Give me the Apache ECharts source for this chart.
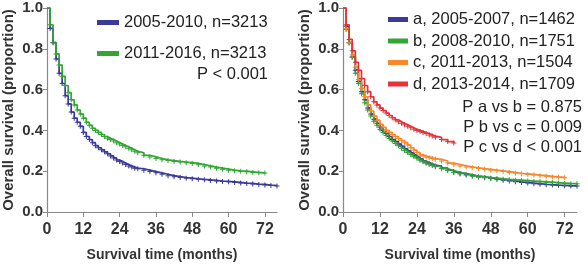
<!DOCTYPE html>
<html>
<head>
<meta charset="utf-8">
<script src="https://cdn.jsdelivr.net/npm/echarts@6/dist/echarts.min.js"></script>
<style>
  html, body { margin: 0; padding: 0; background: #fff; }
  #chart { width: 588px; height: 267px; }
</style>
</head>
<body>
<div id="chart"></div>
<script>
// months at which the survival values are read (same grid for every curve)
const months = [0, 1, 2, 3, 4, 5, 6, 7, 8, 9, 10, 11, 12, 13, 14, 15, 16, 17, 18, 19, 20,
  21, 22, 23, 24, 25, 26, 27, 28, 29, 30, 32, 34, 36, 38, 40, 42, 44, 46, 48, 50,
  52, 54, 56, 58, 60, 62, 64, 66, 68, 70, 72, 74, 76]

// left panel
const leftNames = ['2005-2010, n=3213', '2011-2016, n=3213']
const left2005 = [1, 0.90, 0.83, 0.75, 0.68, 0.63, 0.57, 0.53, 0.49, 0.46, 0.44, 0.42, 0.39, 0.37, 0.355, 0.34, 0.325, 0.315, 0.305, 0.295, 0.285,
  0.275, 0.265, 0.255, 0.248, 0.24, 0.233, 0.226, 0.22, 0.215, 0.212, 0.205, 0.198, 0.192, 0.185, 0.178, 0.173, 0.169, 0.166, 0.163, 0.16,
  0.158, 0.155, 0.152, 0.15, 0.148, 0.145, 0.142, 0.14, 0.137, 0.135, 0.132, 0.13, 0.128]
const left2011 = [1, 0.918, 0.83, 0.775, 0.72, 0.665, 0.62, 0.585, 0.55, 0.525, 0.50, 0.48, 0.46, 0.44, 0.425, 0.41, 0.40, 0.39, 0.38, 0.37, 0.362,
  0.355, 0.348, 0.34, 0.333, 0.326, 0.32, 0.313, 0.305, 0.298, 0.29, 0.278, 0.27, 0.262, 0.256, 0.252, 0.248, 0.245, 0.242, 0.238, 0.232,
  0.226, 0.22, 0.215, 0.21, 0.205, 0.202, 0.2, 0.197, 0.194, 0.192, 0.191]

// right panel
const rightNames = ['a, 2005-2007, n=1462', 'b, 2008-2010, n=1751', 'c, 2011-2013, n=1504', 'd, 2013-2014, n=1709']
const rightA = [1, 0.91, 0.83, 0.76, 0.695, 0.64, 0.59, 0.55, 0.51, 0.48, 0.455, 0.435, 0.415, 0.40, 0.385, 0.37, 0.355, 0.345, 0.333, 0.322, 0.31,
  0.30, 0.29, 0.28, 0.27, 0.26, 0.25, 0.242, 0.236, 0.23, 0.225, 0.215, 0.205, 0.195, 0.188, 0.182, 0.176, 0.172, 0.168, 0.164, 0.16,
  0.156, 0.152, 0.148, 0.145, 0.142, 0.139, 0.136, 0.134, 0.132, 0.131, 0.129, 0.128, 0.127]
const rightB = [1, 0.895, 0.83, 0.758, 0.68, 0.63, 0.58, 0.535, 0.50, 0.47, 0.445, 0.425, 0.405, 0.39, 0.375, 0.36, 0.348, 0.336, 0.325, 0.313, 0.302,
  0.292, 0.282, 0.272, 0.263, 0.254, 0.246, 0.24, 0.234, 0.228, 0.222, 0.212, 0.203, 0.194, 0.187, 0.181, 0.176, 0.172, 0.169, 0.166, 0.163,
  0.16, 0.158, 0.156, 0.154, 0.152, 0.15, 0.148, 0.146, 0.144, 0.142, 0.14, 0.139, 0.138]
const rightC = [1, 0.90, 0.83, 0.77, 0.71, 0.65, 0.606, 0.565, 0.525, 0.495, 0.47, 0.45, 0.43, 0.415, 0.40, 0.39, 0.38, 0.37, 0.36, 0.35, 0.34,
  0.328, 0.315, 0.303, 0.292, 0.28, 0.274, 0.27, 0.266, 0.262, 0.258, 0.25, 0.24, 0.232, 0.226, 0.221, 0.217, 0.213, 0.209, 0.205, 0.202,
  0.198, 0.194, 0.19, 0.187, 0.184, 0.181, 0.178, 0.175, 0.172, 0.17, 0.168]
const rightD = [1, 0.918, 0.846, 0.79, 0.734, 0.694, 0.654, 0.62, 0.59, 0.565, 0.54, 0.525, 0.51, 0.497, 0.485, 0.473, 0.462, 0.452, 0.443, 0.435, 0.428,
  0.42, 0.413, 0.406, 0.40, 0.395, 0.39, 0.385, 0.378, 0.372, 0.366, 0.355, 0.345, 0.338]

const xTicks = [0, 12, 24, 36, 48, 60, 72]
const yTicks = ['0.0', '0.2', '0.4', '0.6', '0.8', '1.0']
const pLeft = ['P < 0.001']
const pRight = ['P a vs b = 0.875', 'P b vs c = 0.009', 'P c vs d < 0.001']

const BLUE = '#3a3a9a'
const GREEN = '#33a633'
const ORANGE = '#f7882c'
const RED = '#e2343a'
const FONT = 'Liberation Sans, Arial, sans-serif'
const PLUS = 'path://M2,0H3V2H5V3H3V5H2V3H0V2H2Z'

function toPoints (values) {
  return values.map((v, i) => {
    if (i === 0) return { value: [months[i], v], symbol: 'none' }
    return [months[i], v]
  })
}

function kmSeries (name, values, color, idx) {
  return {
    name,
    type: 'line',
    step: 'end',
    xAxisIndex: idx,
    yAxisIndex: idx,
    data: toPoints(values),
    symbol: PLUS,
    symbolSize: 5,
    showAllSymbol: true,
    lineStyle: { color, width: 1.7 },
    itemStyle: { color },
    emphasis: { disabled: true },
    z: 3
  }
}

function xAxisFor (idx) {
  return {
    type: 'value',
    gridIndex: idx,
    min: 0,
    max: 76,
    interval: 12,
    name: 'Survival time (months)',
    nameLocation: 'middle',
    nameGap: 36,
    nameTextStyle: { fontFamily: FONT, fontWeight: 'bold', fontSize: 14, color: '#333' },
    axisLine: { lineStyle: { color: '#888', width: 1.2 } },
    axisTick: { length: 5, lineStyle: { color: '#888' } },
    axisLabel: {
      fontFamily: FONT, fontWeight: 'bold', fontSize: 16, color: '#333', margin: 10,
      showMaxLabel: false,
      formatter: v => (xTicks.indexOf(v) >= 0 ? String(v) : '')
    },
    splitLine: { show: false }
  }
}

function yAxisFor (idx) {
  return {
    type: 'value',
    gridIndex: idx,
    min: 0,
    max: 1,
    interval: 0.2,
    name: 'Overall survival (proportion)',
    nameLocation: 'middle',
    nameGap: 31,
    nameTextStyle: { fontFamily: FONT, fontWeight: 'bold', fontSize: 15, color: '#333' },
    axisLine: { show: true, lineStyle: { color: '#888', width: 1.2 } },
    axisTick: { show: true, length: 4, lineStyle: { color: '#888' } },
    axisLabel: {
      fontFamily: FONT, fontWeight: 'bold', fontSize: 15, color: '#333', margin: 4,
      formatter: v => yTicks[Math.round(v * 5)]
    },
    splitLine: { show: false }
  }
}

const chart = echarts.init(document.getElementById('chart'), null, { renderer: 'canvas' })

const legendText = { fontFamily: FONT, fontSize: 16.5, color: '#222' }

chart.setOption({
  animation: false,
  backgroundColor: '#fff',
  grid: [
    { left: 46, top: 8, width: 231, height: 208 },
    { left: 343, top: 8, width: 234, height: 208 }
  ],
  xAxis: [xAxisFor(0), xAxisFor(1)],
  yAxis: [yAxisFor(0), yAxisFor(1)],
  legend: [
    {
      data: leftNames,
      orient: 'vertical',
      left: 92,
      top: 9,
      itemWidth: 22,
      itemHeight: 5,
      itemGap: 14,
      icon: 'rect',
      textStyle: legendText,
      selectedMode: false
    },
    {
      data: rightNames,
      orient: 'vertical',
      left: 383,
      top: 6,
      itemWidth: 20,
      itemHeight: 5,
      itemGap: 4.5,
      icon: 'rect',
      textStyle: legendText,
      selectedMode: false
    }
  ],
  graphic: [
    ...pLeft.map((t, i) => ({
      type: 'text', right: 588 - 268, top: 66 + i * 20,
      style: { text: t, font: '16.5px ' + FONT, fill: '#222' }
    })),
    ...pRight.map((t, i) => ({
      type: 'text', right: 6, top: 99 + i * 20,
      style: { text: t, font: '16.5px ' + FONT, fill: '#222' }
    }))
  ],
  series: [
    kmSeries(leftNames[0], left2005, BLUE, 0),
    kmSeries(leftNames[1], left2011, GREEN, 0),
    kmSeries(rightNames[0], rightA, BLUE, 1),
    kmSeries(rightNames[1], rightB, GREEN, 1),
    kmSeries(rightNames[2], rightC, ORANGE, 1),
    kmSeries(rightNames[3], rightD, RED, 1)
  ]
})
</script>
</body>
</html>
